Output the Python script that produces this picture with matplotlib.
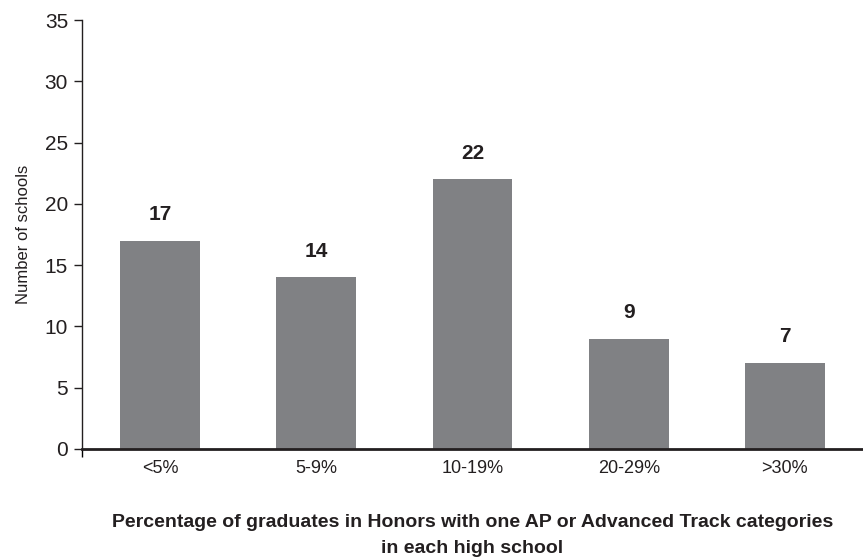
import matplotlib.pyplot as plt
from matplotlib import font_manager as fm

# condensed sans if available, otherwise plain Liberation Sans
names = {f.name for f in fm.fontManager.ttflist}
family = "Liberation Sans Narrow" if "Liberation Sans Narrow" in names else "Liberation Sans"
plt.rcParams["font.family"] = [family, "DejaVu Sans"]

# data
categories = ["<5%", "5-9%", "10-19%", "20-29%", ">30%"]
schools = [17, 14, 22, 9, 7]

fig = plt.figure(figsize=(8.63, 5.59), dpi=100)
ax = fig.add_axes([0.095, 0.197, 0.905, 0.767])

x = range(len(categories))
bars = ax.bar(x, schools, width=0.51, color="#808184", edgecolor="none")

for b, v in zip(bars, schools):
    ax.annotate(str(v), (b.get_x() + b.get_width() / 2, v),
                xytext=(0, 12), textcoords="offset points",
                ha="center", va="bottom", fontsize=15, fontweight="bold",
                color="#231f20")

ax.set_xlim(-0.5, 4.5)
ax.set_ylim(0, 35)
ax.set_yticks(range(0, 36, 5))
ax.set_xticks(list(x))
ax.set_xticklabels(categories)
ax.tick_params(axis="x", length=0, labelsize=13, pad=8, colors="#231f20")
ax.tick_params(axis="y", length=6, width=1, labelsize=15, pad=4, colors="#231f20")
# small tick below the origin
ax.set_xticks([-0.5], minor=True)
ax.tick_params(axis="x", which="minor", length=6, width=1, direction="out")

for s in ["top", "right"]:
    ax.spines[s].set_visible(False)
ax.spines["left"].set_linewidth(1.0)
ax.spines["bottom"].set_linewidth(2.0)
ax.spines["left"].set_color("#231f20")
ax.spines["bottom"].set_color("#231f20")

ax.set_ylabel("Number of schools", fontsize=12, color="#231f20", labelpad=10)
ax.set_xlabel("Percentage of graduates in Honors with one AP or Advanced Track categories\nin each high school",
              fontsize=14, fontweight="bold", color="#231f20", labelpad=27, linespacing=1.65)

fig.savefig("out.png", dpi=100)
